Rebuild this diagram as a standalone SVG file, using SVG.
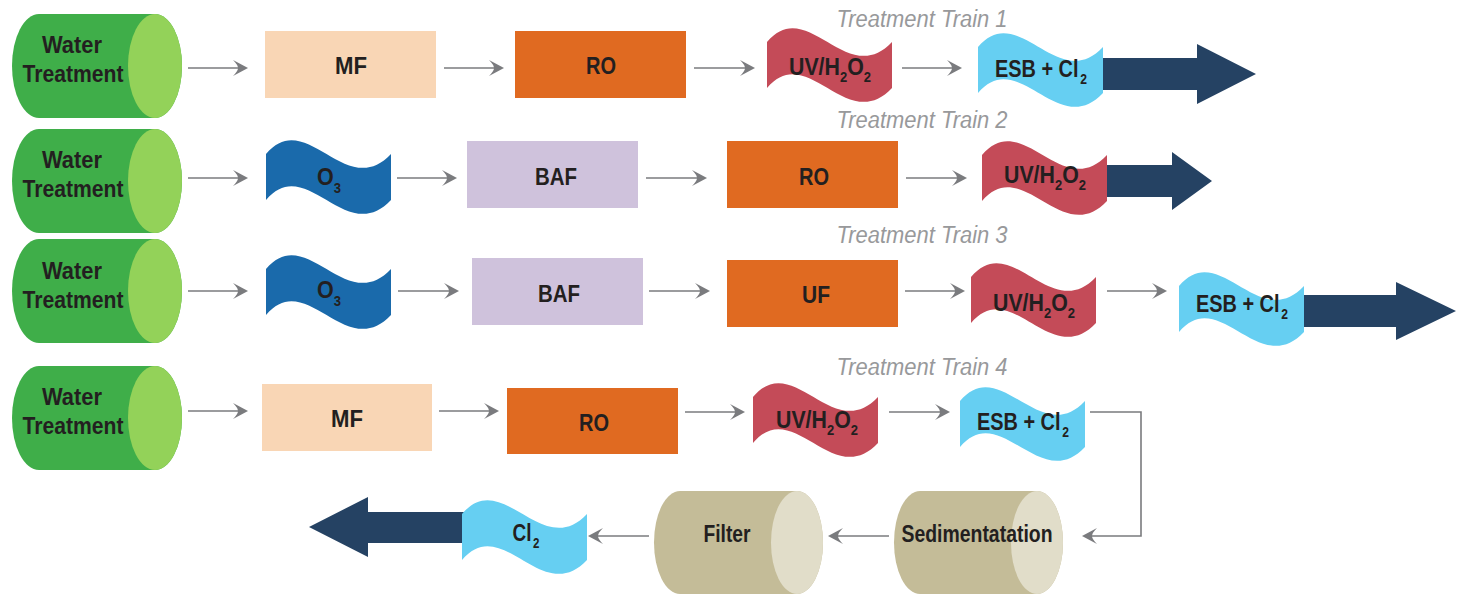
<svg xmlns="http://www.w3.org/2000/svg" xmlns:xlink="http://www.w3.org/1999/xlink" width="1465" height="595" viewBox="0 0 1465 595">
<style>
.lbl{font-family:"Liberation Sans",Arial,sans-serif;font-weight:bold;font-size:23px;fill:#231f20;text-anchor:middle}
.sub{font-size:14px}
.train{font-family:"Liberation Sans",Arial,sans-serif;font-style:italic;font-size:23px;fill:#98999b;text-anchor:middle}
.conn{fill:none;stroke:#7a7b7e;stroke-width:1.6;marker-end:url(#ah)}
.cylG{fill:#3fae49}.capG{fill:#93d259}
.cylT{fill:#c4bc98}.capT{fill:#e1ddc9}
.mf{fill:#f9d6b5}.ro{fill:#e06a21}.baf{fill:#cfc2dc}
.uv{fill:#c44b58}.esb{fill:#66cff2}.o3{fill:#1a6aab}
.big{fill:#254263}
</style>
<defs>
<marker id="ah" viewBox="-16 -9 17 18" refX="-3" refY="0" markerWidth="17" markerHeight="18" orient="auto" markerUnits="userSpaceOnUse">
<path d="M0,0 L-15,-8 Q-10,-3 -10,0 Q-10,3 -15,8 Z" fill="#7a7b7e"/>
</marker>
<path id="wave" d="M0,14 C40,-34 80,62 125,14 L125,60 C80,108 40,12 0,60 Z"/>
</defs>

<!-- Treatment train labels -->
<g id="labels">
<text class="train" x="922" y="27" textLength="171" lengthAdjust="spacingAndGlyphs">Treatment Train 1</text>
<text class="train" x="922" y="128" textLength="171" lengthAdjust="spacingAndGlyphs">Treatment Train 2</text>
<text class="train" x="922" y="243" textLength="171" lengthAdjust="spacingAndGlyphs">Treatment Train 3</text>
<text class="train" x="922" y="375" textLength="171" lengthAdjust="spacingAndGlyphs">Treatment Train 4</text>
</g>

<!-- Connectors -->
<g id="connectors">
<line class="conn" x1="188" y1="68" x2="245" y2="68"/>
<line class="conn" x1="444" y1="68" x2="501" y2="68"/>
<line class="conn" x1="694" y1="68" x2="752" y2="68"/>
<line class="conn" x1="902" y1="68" x2="959" y2="68"/>

<line class="conn" x1="188" y1="178" x2="245" y2="178"/>
<line class="conn" x1="397" y1="178" x2="454" y2="178"/>
<line class="conn" x1="646" y1="178" x2="704" y2="178"/>
<line class="conn" x1="906" y1="178" x2="964" y2="178"/>

<line class="conn" x1="188" y1="291" x2="245" y2="291"/>
<line class="conn" x1="398" y1="291" x2="456" y2="291"/>
<line class="conn" x1="649" y1="291" x2="707" y2="291"/>
<line class="conn" x1="905" y1="291" x2="962" y2="291"/>
<line class="conn" x1="1107" y1="291" x2="1164" y2="291"/>

<line class="conn" x1="188" y1="411" x2="245" y2="411"/>
<line class="conn" x1="439" y1="411" x2="496" y2="411"/>
<line class="conn" x1="685" y1="412" x2="742" y2="412"/>
<line class="conn" x1="889" y1="412" x2="947" y2="412"/>
<path class="conn" d="M1090,412 H1141 V536 H1085"/>
<line class="conn" x1="889" y1="536" x2="831" y2="536"/>
<line class="conn" x1="649" y1="536" x2="591" y2="536"/>
</g>

<!-- Row 1 -->
<g id="wt1">
<path class="cylG" d="M39,14 H155 A27,52 0 0 1 155,118 H39 A27,52 0 0 1 39,14 Z"/>
<ellipse class="capG" cx="155" cy="66" rx="27" ry="52"/>
<text class="lbl" x="72" y="53" textLength="60" lengthAdjust="spacingAndGlyphs">Water</text>
<text class="lbl" x="73" y="82" textLength="101" lengthAdjust="spacingAndGlyphs">Treatment</text>
</g>
<g id="mf1"><rect class="mf" x="265" y="31" width="171" height="67"/><text class="lbl" x="351" y="74" textLength="32" lengthAdjust="spacingAndGlyphs">MF</text></g>
<g id="ro1"><rect class="ro" x="515" y="31" width="171" height="67"/><text class="lbl" x="601" y="74" textLength="30" lengthAdjust="spacingAndGlyphs">RO</text></g>
<g id="uv1"><use href="#wave" class="uv" x="767" y="28"/><text class="lbl" x="830" y="75" textLength="82" lengthAdjust="spacingAndGlyphs">UV/H<tspan class="sub" dy="7">2</tspan><tspan dy="-7">O</tspan><tspan class="sub" dy="7">2</tspan></text></g>
<g id="out1"><polygon class="big" points="1098,58 1197,58 1197,44 1256,74 1197,104 1197,90 1098,90"/></g>
<g id="esb1"><use href="#wave" class="esb" x="978" y="33"/><text class="lbl" x="1041" y="77" textLength="92" lengthAdjust="spacingAndGlyphs">ESB + Cl<tspan class="sub" dx="2" dy="7">2</tspan></text></g>

<!-- Row 2 -->
<g id="wt2">
<path class="cylG" d="M39,129 H155 A27,52 0 0 1 155,233 H39 A27,52 0 0 1 39,129 Z"/>
<ellipse class="capG" cx="155" cy="181" rx="27" ry="52"/>
<text class="lbl" x="72" y="168" textLength="60" lengthAdjust="spacingAndGlyphs">Water</text>
<text class="lbl" x="73" y="197" textLength="101" lengthAdjust="spacingAndGlyphs">Treatment</text>
</g>
<g id="o3a"><use href="#wave" class="o3" x="266" y="140"/><text class="lbl" x="329" y="185" textLength="24" lengthAdjust="spacingAndGlyphs">O<tspan class="sub" dy="8">3</tspan></text></g>
<g id="baf2"><rect class="baf" x="467" y="141" width="171" height="67"/><text class="lbl" x="556" y="185" textLength="42" lengthAdjust="spacingAndGlyphs">BAF</text></g>
<g id="ro2"><rect class="ro" x="727" y="141" width="171" height="67"/><text class="lbl" x="814" y="185" textLength="30" lengthAdjust="spacingAndGlyphs">RO</text></g>
<g id="out2"><polygon class="big" points="1104,165 1172,165 1172,152 1212,181 1172,210 1172,197 1104,197"/></g>
<g id="uv2"><use href="#wave" class="uv" x="982" y="141"/><text class="lbl" x="1045" y="183" textLength="82" lengthAdjust="spacingAndGlyphs">UV/H<tspan class="sub" dy="7">2</tspan><tspan dy="-7">O</tspan><tspan class="sub" dy="7">2</tspan></text></g>

<!-- Row 3 -->
<g id="wt3">
<path class="cylG" d="M39,239 H155 A27,52 0 0 1 155,343 H39 A27,52 0 0 1 39,239 Z"/>
<ellipse class="capG" cx="155" cy="291" rx="27" ry="52"/>
<text class="lbl" x="72" y="279" textLength="60" lengthAdjust="spacingAndGlyphs">Water</text>
<text class="lbl" x="73" y="308" textLength="101" lengthAdjust="spacingAndGlyphs">Treatment</text>
</g>
<g id="o3b"><use href="#wave" class="o3" x="266" y="255"/><text class="lbl" x="329" y="298" textLength="24" lengthAdjust="spacingAndGlyphs">O<tspan class="sub" dy="8">3</tspan></text></g>
<g id="baf3"><rect class="baf" x="472" y="258" width="171" height="67"/><text class="lbl" x="559" y="302" textLength="42" lengthAdjust="spacingAndGlyphs">BAF</text></g>
<g id="uf3"><rect class="ro" x="727" y="260" width="171" height="67"/><text class="lbl" x="816" y="303" textLength="28" lengthAdjust="spacingAndGlyphs">UF</text></g>
<g id="uv3"><use href="#wave" class="uv" x="971" y="263"/><text class="lbl" x="1034" y="311" textLength="82" lengthAdjust="spacingAndGlyphs">UV/H<tspan class="sub" dy="7">2</tspan><tspan dy="-7">O</tspan><tspan class="sub" dy="7">2</tspan></text></g>
<g id="out3"><polygon class="big" points="1300,295 1396,295 1396,282 1456,311 1396,340 1396,327 1300,327"/></g>
<g id="esb3"><use href="#wave" class="esb" x="1179" y="272"/><text class="lbl" x="1242" y="312" textLength="92" lengthAdjust="spacingAndGlyphs">ESB + Cl<tspan class="sub" dx="2" dy="7">2</tspan></text></g>

<!-- Row 4 -->
<g id="wt4">
<path class="cylG" d="M39,366 H155 A27,52 0 0 1 155,470 H39 A27,52 0 0 1 39,366 Z"/>
<ellipse class="capG" cx="155" cy="418" rx="27" ry="52"/>
<text class="lbl" x="72" y="405" textLength="60" lengthAdjust="spacingAndGlyphs">Water</text>
<text class="lbl" x="73" y="434" textLength="101" lengthAdjust="spacingAndGlyphs">Treatment</text>
</g>
<g id="mf4"><rect class="mf" x="262" y="384" width="170" height="67"/><text class="lbl" x="347" y="427" textLength="32" lengthAdjust="spacingAndGlyphs">MF</text></g>
<g id="ro4"><rect class="ro" x="507" y="388" width="171" height="66"/><text class="lbl" x="594" y="431" textLength="30" lengthAdjust="spacingAndGlyphs">RO</text></g>
<g id="uv4"><use href="#wave" class="uv" x="753" y="383"/><text class="lbl" x="817" y="428" textLength="82" lengthAdjust="spacingAndGlyphs">UV/H<tspan class="sub" dy="7">2</tspan><tspan dy="-7">O</tspan><tspan class="sub" dy="7">2</tspan></text></g>
<g id="esb4"><use href="#wave" class="esb" x="960" y="387"/><text class="lbl" x="1023" y="430" textLength="92" lengthAdjust="spacingAndGlyphs">ESB + Cl<tspan class="sub" dx="2" dy="7">2</tspan></text></g>

<g id="sed">
<path class="cylT" d="M920,491 H1037 A26,51.5 0 0 1 1037,594 H920 A26,51.5 0 0 1 920,491 Z"/>
<ellipse class="capT" cx="1037" cy="542.5" rx="26" ry="51.5"/>
<text class="lbl" x="977" y="542" textLength="151" lengthAdjust="spacingAndGlyphs">Sedimentatation</text>
</g>
<g id="filter">
<path class="cylT" d="M680,491 H797 A26,51.5 0 0 1 797,594 H680 A26,51.5 0 0 1 680,491 Z"/>
<ellipse class="capT" cx="797" cy="542.5" rx="26" ry="51.5"/>
<text class="lbl" x="727" y="542" textLength="47" lengthAdjust="spacingAndGlyphs">Filter</text>
</g>
<g id="out4"><polygon class="big" points="465,512 368,512 368,497 309,527 368,557 368,543 465,543"/></g>
<g id="cl2"><use href="#wave" class="esb" x="462" y="500"/><text class="lbl" x="526" y="541" textLength="27" lengthAdjust="spacingAndGlyphs">Cl<tspan class="sub" dx="2" dy="7">2</tspan></text></g>
</svg>
